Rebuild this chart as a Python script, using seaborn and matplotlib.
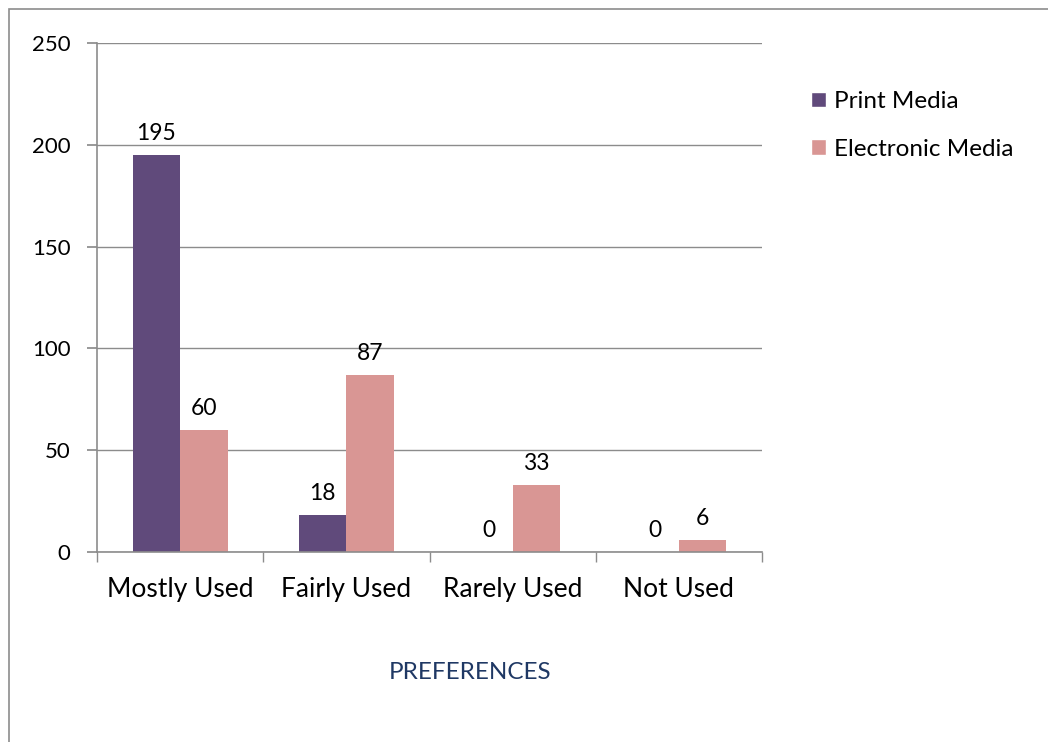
import pandas as pd
import seaborn as sns
import matplotlib.pyplot as plt
from matplotlib.patches import Rectangle, Patch

# data
categories = ["Mostly Used", "Fairly Used", "Rarely Used", "Not Used"]
print_media = [195, 18, 0, 0]
electronic_media = [60, 87, 33, 6]
series_names = ["Print Media", "Electronic Media"]
colors = ["#604A7B", "#D99694"]

df = pd.DataFrame({
    "Preference": categories * 2,
    "Count": print_media + electronic_media,
    "Media": [series_names[0]] * 4 + [series_names[1]] * 4,
})

sns.set_theme(style="white")
plt.rcParams['font.family'] = ['Lato', 'DejaVu Sans']
plt.rcParams['text.color'] = 'black'
plt.rcParams['xtick.color'] = 'black'
plt.rcParams['ytick.color'] = 'black'

fig = plt.figure(figsize=(10.48, 7.42), dpi=100)
ax = fig.add_axes([0.0926, 0.256, 0.6345, 0.686])

sns.barplot(data=df, x="Preference", y="Count", hue="Media",
            palette=colors, width=0.57, saturation=1, linewidth=0,
            ax=ax, legend=False)

# value labels
for cont in ax.containers:
    ax.bar_label(cont, fontsize=16.5, padding=8)

ax.set_ylim(0, 250)
ax.set_yticks(range(0, 251, 50))
ax.set_xlim(-0.5, 3.5)
ax.yaxis.grid(True, color="#8c8c8c", linewidth=1)
ax.set_axisbelow(True)
for s in ["top", "right"]:
    ax.spines[s].set_visible(False)
for s in ["left", "bottom"]:
    ax.spines[s].set_color("#8c8c8c")
    ax.spines[s].set_linewidth(1.2)
ax.tick_params(axis="y", left=True, length=7, color="#8c8c8c", labelsize=16, pad=12)
ax.set_xticks([-0.5, 0.5, 1.5, 2.5, 3.5], minor=True)
ax.tick_params(axis="x", which="minor", bottom=True, length=7, color="#8c8c8c")
ax.tick_params(axis="x", which="major", bottom=False, labelsize=19, pad=12)
ax.set_ylabel("")
ax.set_xlabel("")
fig.text(0.449, 0.094, "PREFERENCES", fontsize=17.5, color="#1F3864",
         ha="center", va="center")

handles = [Patch(facecolor=c) for c in colors]
fig.legend(handles, series_names, loc="upper left", bbox_to_anchor=(0.753, 0.907),
           frameon=False, fontsize=17.5, handlelength=0.6, handleheight=0.6,
           handletextpad=0.35, labelspacing=1.1)

# outer chart border
fig.patches.append(Rectangle((0.0086, -0.01), 1.0, 0.998, transform=fig.transFigure,
                             fill=False, edgecolor="#8c8c8c", linewidth=1.2))

fig.savefig("out.png", dpi=100)
